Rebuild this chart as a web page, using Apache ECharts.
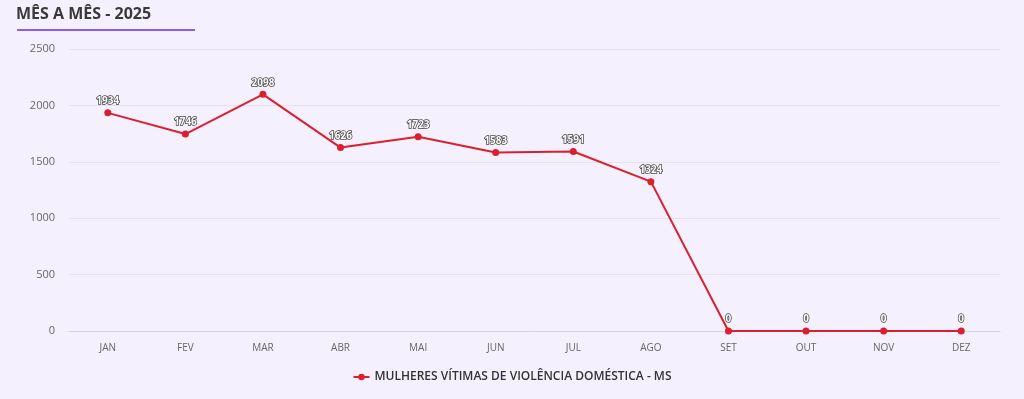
<!DOCTYPE html>
<html>
<head>
<meta charset="utf-8">
<script src="https://cdn.jsdelivr.net/npm/echarts@6/dist/echarts.min.js"></script>
<style>
  html, body { margin: 0; padding: 0; background: #f5f0fd; }
  #chart { width: 1024px; height: 399px; }
</style>
</head>
<body>
<div id="chart"></div>
<script>
// Monthly data, 2025
const months = ['JAN', 'FEV', 'MAR', 'ABR', 'MAI', 'JUN', 'JUL', 'AGO', 'SET', 'OUT', 'NOV', 'DEZ'];
const victims = [1934, 1746, 2098, 1626, 1723, 1583, 1591, 1324, 0, 0, 0, 0];
const seriesName = 'MULHERES VÍTIMAS DE VIOLÊNCIA DOMÉSTICA - MS';

const font = '"Open Sans", "Noto Sans", sans-serif';
const red = '#dc1f2e';

const chart = echarts.init(document.getElementById('chart'), null, { renderer: 'canvas' });

chart.setOption({
  backgroundColor: '#f5f0fd',
  textStyle: { fontFamily: font },
  title: {
    text: 'MÊS A MÊS - 2025',
    left: 11,
    top: 1,
    textStyle: { fontFamily: font, fontSize: 16, fontWeight: 'bold', color: '#3a3a3a' }
  },
  graphic: [{
    type: 'rect',
    shape: { x: 17, y: 29, width: 178, height: 2 },
    style: { fill: '#8b5cf6' }
  }],
  grid: { left: 69, right: 24, top: 49, bottom: 68 },
  legend: {
    bottom: 11,
    left: 'center',
    itemWidth: 16,
    itemHeight: 8,
    textStyle: { fontFamily: font, fontSize: 12, fontWeight: 600, color: '#333' },
    data: [seriesName]
  },
  xAxis: {
    type: 'category',
    data: months,
    boundaryGap: true,
    axisLine: { lineStyle: { color: '#ccd6eb' } },
    axisTick: { show: false },
    axisLabel: { color: '#666', fontSize: 10, margin: 12 }
  },
  yAxis: {
    type: 'value',
    min: 0,
    max: 2500,
    interval: 500,
    axisLine: { show: false },
    axisTick: { show: false },
    axisLabel: { color: '#666', fontSize: 11, margin: 14, formatter: (v) => String(v) },
    splitLine: { lineStyle: { color: '#e6e1ec' } }
  },
  series: [{
    name: seriesName,
    type: 'line',
    data: victims,
    color: red,
    symbol: 'circle',
    symbolSize: 7,
    lineStyle: { width: 2, color: red },
    itemStyle: { color: red },
    label: {
      show: true,
      position: 'top',
      distance: 3,
      fontSize: 10,
      fontWeight: 'bold',
      color: '#fff',
      textBorderColor: '#444',
      textBorderWidth: 1.5
    }
  }]
});
</script>
</body>
</html>
